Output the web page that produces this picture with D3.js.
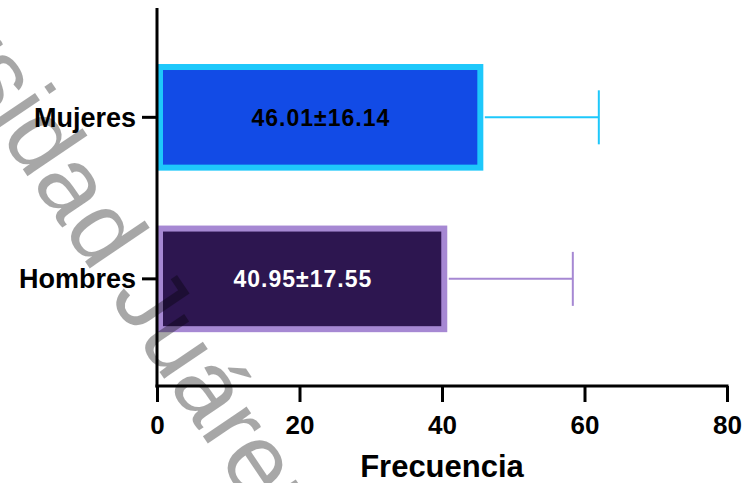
<!DOCTYPE html>
<html>
<head>
<meta charset="utf-8">
<script src="https://cdn.jsdelivr.net/npm/d3@7"></script>
<style>
  body { margin: 0; background: #fff; }
  text { font-family: "Liberation Sans", Arial, sans-serif; }
</style>
</head>
<body>
<svg id="chart"></svg>
<script>
// ============ data =============
const categories = ["Mujeres", "Hombres"];
const means = [46.01, 40.95];
const sds = [16.14, 17.55];
const barLabels = ["46.01±16.14", "40.95±17.55"];
const xTicks = [0, 20, 40, 60, 80];

const fills = ["#124be6", "#2d1650"];
const borders = ["#1ec8fb", "#a688d3"];
const labelColors = ["#000", "#fff"];

const width = 743, height = 483;
const svg = d3.select("#chart").attr("width", width).attr("height", height);

// ============ scales =============
const x = d3.scaleLinear().domain([0, 80]).range([157, 727]);
const y = d3.scaleBand().domain(categories).range([8, 386])
  .paddingInner(0.34).paddingOuter(0.34).align(0.51);

const rows = categories.map((c, i) => ({cat: c, mean: means[i], sd: sds[i], label: barLabels[i], i: i}));

// ============ bars =============
const bw = 6;
svg.selectAll("rect.bar").data(rows).enter().append("rect")
  .attr("class", "bar")
  .attr("x", x(0) + bw / 2)
  .attr("y", d => y(d.cat) + bw / 2)
  .attr("width", d => x(d.mean) - x(0) - bw - 1.5)
  .attr("height", y.bandwidth() - bw)
  .attr("fill", d => fills[d.i])
  .attr("stroke", d => borders[d.i])
  .attr("stroke-width", bw);

// error bars
const cy = d => y(d.cat) + y.bandwidth() / 2;
svg.selectAll("line.err").data(rows).enter().append("line")
  .attr("x1", d => x(d.mean)).attr("x2", d => x(d.mean + d.sd) - 1)
  .attr("y1", cy).attr("y2", cy)
  .attr("stroke", d => borders[d.i]).attr("stroke-width", 2);
svg.selectAll("line.cap").data(rows).enter().append("line")
  .attr("x1", d => x(d.mean + d.sd) - 1).attr("x2", d => x(d.mean + d.sd) - 1)
  .attr("y1", d => cy(d) - 27).attr("y2", d => cy(d) + 27)
  .attr("stroke", d => borders[d.i]).attr("stroke-width", 2);

// value labels
svg.selectAll("text.val").data(rows).enter().append("text")
  .attr("x", d => (x(0) + x(d.mean)) / 2)
  .attr("y", cy)
  .attr("dy", "0.36em")
  .attr("text-anchor", "middle")
  .attr("font-size", 23).attr("font-weight", "bold")
  .attr("letter-spacing", 1)
  .attr("fill", d => labelColors[d.i])
  .text(d => d.label);

// ============ axes =============
const xAxis = svg.append("g").attr("transform", "translate(0,386)")
  .call(d3.axisBottom(x).tickValues(xTicks).tickSize(16).tickSizeOuter(0).tickPadding(14));
xAxis.select(".domain").attr("stroke", "#000").attr("stroke-width", 3)
  .attr("d", "M" + (x(0) - 1.5) + ",0H" + (x(80) + 1.5));
xAxis.selectAll(".tick line").attr("stroke", "#000").attr("stroke-width", 3);
xAxis.selectAll(".tick text").attr("font-size", 26).attr("font-weight", "bold")
  .attr("fill", "#000").style("font-family", "'Liberation Sans', Arial, sans-serif");

const yAxis = svg.append("g").attr("transform", "translate(157,0)")
  .call(d3.axisLeft(y).tickSize(15).tickSizeOuter(0).tickPadding(6));
yAxis.select(".domain").attr("stroke", "#000").attr("stroke-width", 3)
  .attr("d", "M0,8V387.5");
yAxis.selectAll(".tick line").attr("stroke", "#000").attr("stroke-width", 3);
yAxis.selectAll(".tick text").attr("font-size", 27).attr("font-weight", "bold")
  .attr("dy", "0.35em")
  .attr("fill", "#000").style("font-family", "'Liberation Sans', Arial, sans-serif");

svg.append("text")
  .attr("x", 442).attr("y", 477)
  .attr("text-anchor", "middle")
  .attr("font-size", 31).attr("font-weight", "bold")
  .text("Frecuencia");

// ============ watermark =============
svg.append("g").attr("opacity", 0.34)
  .append("text")
  .attr("transform", "translate(-202,-164) rotate(56)")
  .attr("font-size", 100)
  .attr("fill", "#000")
  .text("Universidad Juárez del Estado de Durango");
</script>
</body>
</html>
